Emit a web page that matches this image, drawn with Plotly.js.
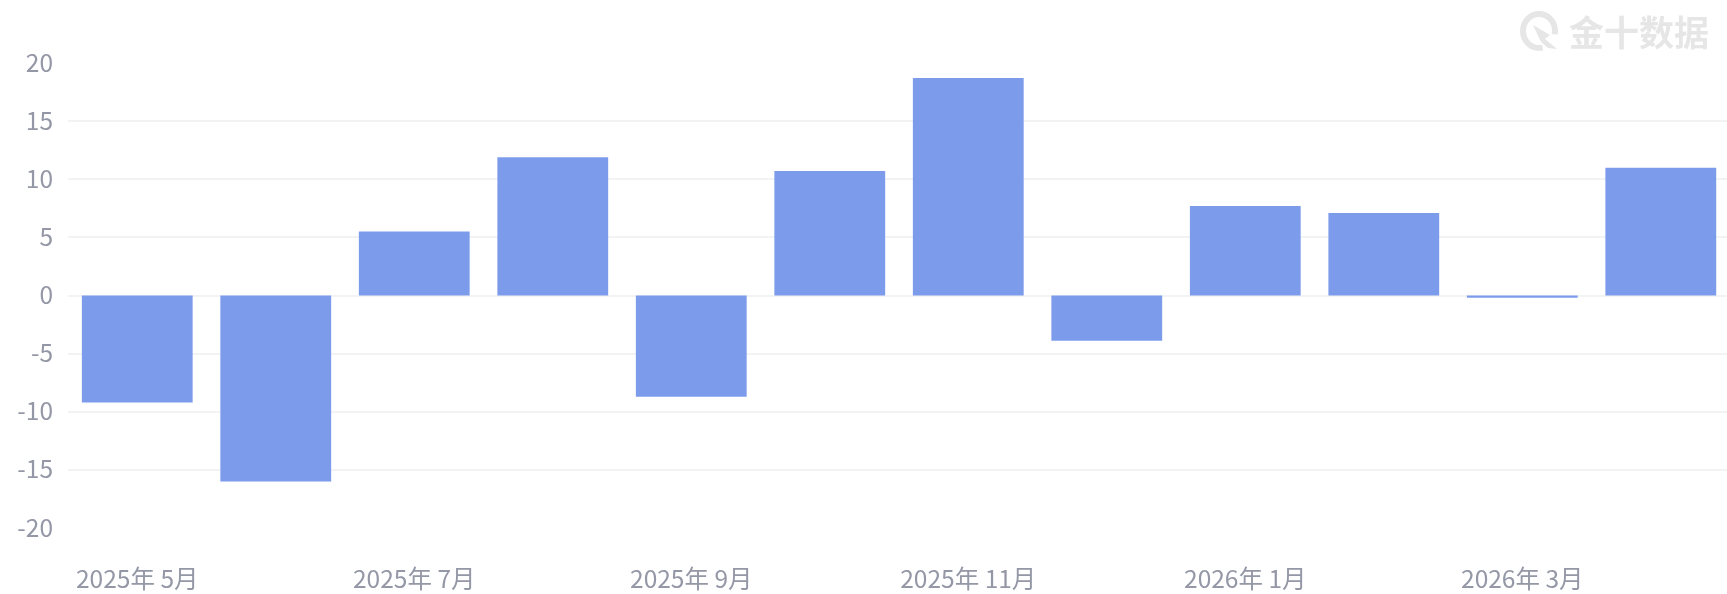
<!DOCTYPE html>
<html>
<head>
<meta charset="utf-8">
<script src="https://cdn.plot.ly/plotly-3.0.1.min.js"></script>
<style>
html,body{margin:0;padding:0;background:#fff;overflow:hidden}
#chart{width:1727px;height:594px;filter:blur(0.7px)}
</style>
</head>
<body>
<div id="chart"></div>
<script>
const categories = ["2025年 5月","2025年 6月","2025年 7月","2025年 8月","2025年 9月","2025年 10月","2025年 11月","2025年 12月","2026年 1月","2026年 2月","2026年 3月","2026年 4月"];
const values = [-9.2,-16,5.5,11.9,-8.7,10.7,18.7,-3.9,7.7,7.1,-0.2,11];
const xTicks = ["2025年 5月","2025年 7月","2025年 9月","2025年 11月","2026年 1月","2026年 3月"];
const yTicks = [-20,-15,-10,-5,0,5,10,15,20];
const font = '"Noto Sans CJK SC","Noto Sans",sans-serif';
const textColor = '#9497a6';
const gridColor = '#f2f3f5';
const markColor = '#e6e6e6';
const px = v => (v-68)/1659;
const py = v => (529-v)/465;
const poly = pts => 'M ' + pts.map(p => px(p[0])+' '+py(p[1])).join(' L ') + ' Z';

const trace = {
  type:'bar', x:categories, y:values, width:0.8,
  marker:{color:'#7c9ceb', line:{width:0}},
  hoverinfo:'x+y'
};
const layout = {
  width:1727, height:594,
  margin:{l:68,r:0,t:63,b:66,pad:0},
  paper_bgcolor:'#fff', plot_bgcolor:'#fff',
  showlegend:false,
  xaxis:{type:'category', categoryorder:'array', categoryarray:categories,
    range:[-0.5,11.478], tickmode:'array', tickvals:xTicks, ticktext:xTicks,
    tickangle:0, showgrid:false, zeroline:false, showline:false, ticks:'',
    ticklabelstandoff:34, ticklabeloverflow:'allow', automargin:false,
    tickfont:{family:font,size:24.5,color:textColor}},
  yaxis:{range:[-20,20], tickmode:'array', tickvals:yTicks, ticktext:yTicks.map(String),
    showgrid:true, gridcolor:gridColor, gridwidth:2,
    zeroline:true, zerolinecolor:gridColor, zerolinewidth:2, showline:false, ticks:'',
    ticklabelstandoff:14, automargin:false,
    tickfont:{family:font,size:24.5,color:textColor}},
  shapes:[
    {type:'circle',xref:'paper',yref:'paper',layer:'above',
     x0:px(1523),x1:px(1555),y0:py(49),y1:py(15),
     line:{color:markColor,width:6},fillcolor:'rgba(0,0,0,0)'},
    {type:'path',xref:'paper',yref:'paper',layer:'above',
     path:poly([[1540,34],[1562,36],[1562,56],[1544,56]]),
     line:{width:0},fillcolor:'#ffffff'},
    {type:'path',xref:'paper',yref:'paper',layer:'above',
     path:poly([[1533,26],[1550,36],[1545,40],[1557,50],[1548,49],[1541,43]]),
     line:{width:0},fillcolor:markColor}
  ],
  annotations:[{text:'<b>金十数据</b>',xref:'paper',yref:'paper',
    x:px(1711),y:py(32),xanchor:'right',yanchor:'middle',showarrow:false,
    font:{family:font,size:35,color:markColor}}]
};
Plotly.newPlot('chart',[trace],layout,{displayModeBar:false,staticPlot:true});
</script>
</body>
</html>
